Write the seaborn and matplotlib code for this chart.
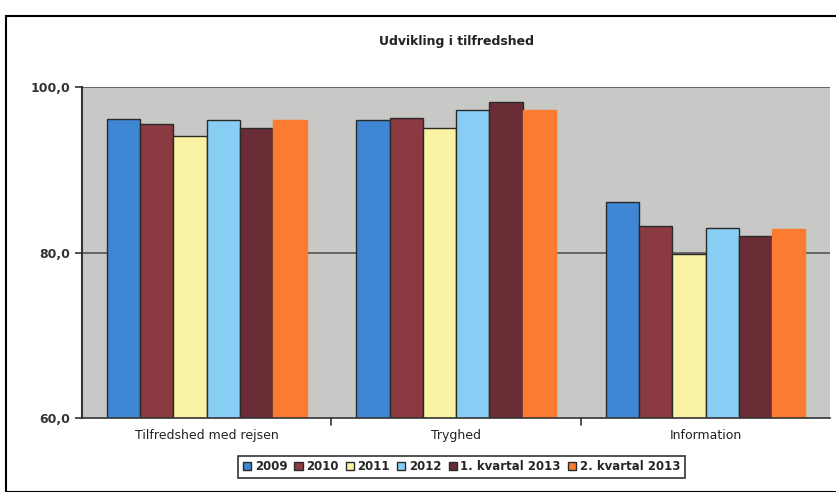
import matplotlib
matplotlib.use("Agg")
import matplotlib.pyplot as plt
import seaborn as sns
import pandas as pd
from matplotlib.patches import Rectangle

categories = ["Tilfredshed med rejsen", "Tryghed", "Information"]
periods = ["2009", "2010", "2011", "2012", "1. kvartal 2013", "2. kvartal 2013"]
values = {
    "2009": [96.1, 96.0, 86.1],
    "2010": [95.6, 96.3, 83.2],
    "2011": [94.1, 95.1, 79.8],
    "2012": [96.0, 97.2, 83.0],
    "1. kvartal 2013": [95.1, 98.2, 82.0],
    "2. kvartal 2013": [96.0, 97.2, 82.8],
}
colors = ["#3f86d4", "#8a3a40", "#fbf3a4", "#88cdf4", "#6a2d36", "#fb7b30"]
yticks = [60, 80, 100]
ytick_labels = ["60,0", "80,0", "100,0"]

rows = []
for p in periods:
    for c, v in zip(categories, values[p]):
        rows.append({"cat": c, "period": p, "val": v})
df = pd.DataFrame(rows)

sns.set_theme(style="white")
plt.rcParams["font.family"] = ["DejaVu Sans"]

fig = plt.figure(figsize=(8.37, 4.92), dpi=100)
ax = fig.add_axes([0.098, 0.150, 0.894, 0.673])
ax.set_facecolor("#c8c8c6")

sns.barplot(data=df, x="cat", y="val", hue="period", order=categories,
            hue_order=periods, palette=colors, width=0.8, ax=ax,
            edgecolor="#2a2a2a", linewidth=1.0, saturation=1)

# orange bars no edge
for bar in ax.containers[-1]:
    bar.set_edgecolor(bar.get_facecolor())

ax.set_xlim(-0.5, 2.5)
ax.set_ylim(60, 100)
ax.set_yticks(yticks)
ax.set_yticklabels(ytick_labels, fontsize=9, fontweight="bold", color="#333333")
ax.set_xlabel("")
ax.set_ylabel("")
ax.tick_params(axis="x", labelsize=9, colors="#222222", length=0, pad=8)
ax.tick_params(axis="y", length=5, width=1.2, color="#333333", left=True)
for y in [80, 100]:
    ax.axhline(y, color="#555555", lw=1.2, zorder=0.5)
for xb in [0.5, 1.5]:
    ax.plot([xb, xb], [60, 59.2], color="#333333", lw=1.2, clip_on=False)

for s in ["top", "right"]:
    ax.spines[s].set_visible(False)
ax.spines["left"].set_color("#333333")
ax.spines["left"].set_linewidth(1.5)
ax.spines["bottom"].set_color("#333333")
ax.spines["bottom"].set_linewidth(1.2)

ax.set_title("Udvikling i tilfredshed", fontsize=9, fontweight="bold", pad=30, color="#222222")

leg = ax.legend(loc="upper center", bbox_to_anchor=(0.507, -0.095), ncol=6,
                frameon=True, fontsize=8.5, handlelength=0.7, handleheight=0.7,
                handletextpad=0.3, columnspacing=0.6, borderpad=0.4)
leg.get_frame().set_edgecolor("black")
leg.get_frame().set_linewidth(1.2)
leg.get_frame().set_boxstyle("square", pad=0)
for t in leg.get_texts():
    t.set_fontweight("bold")

fig.patches.append(Rectangle((0.007, 0.0), 0.995, 0.968, transform=fig.transFigure,
                             fill=False, edgecolor="black", lw=1.5))

fig.savefig("out.png", dpi=100)
